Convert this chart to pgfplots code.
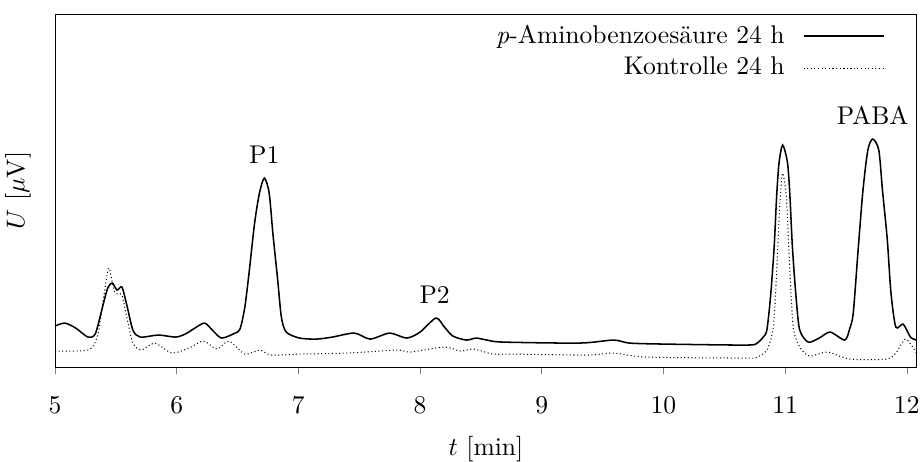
\documentclass[border=0pt]{standalone}
\usepackage{fontspec}
\usepackage{pgfplots}
\pgfplotsset{compat=1.18}
\begin{document}
\begin{tikzpicture}
\begin{axis}[
  scale only axis, width=336.7pt, height=137.9pt,
  xmin=5, xmax=12.083, ymin=0, ymax=353,
  xtick={5,6,7,8,9,10,11,12}, ytick=\empty,
  xtick pos=bottom, tick align=outside, major tick length=2.8pt,
  xticklabel style={yshift=-5.5pt, inner xsep=0pt},
  xlabel={$t$ [min]}, ylabel={$U$ [$\mu$V]},
  xlabel style={at={(axis description cs:0.5,-0.232)}, anchor=center, inner sep=0pt},
  ylabel style={at={(axis description cs:-0.043,0.5)}, anchor=center, inner sep=0pt},
  legend style={draw=none, fill=none, at={(axis description cs:0.972,1.0)}, anchor=north east},
  legend cell align=right, legend plot pos=right,
  legend image code/.code={\path (0cm,0cm); \draw[#1] plot coordinates {(0.18cm,0cm) (0.73cm,0cm) (1.28cm,0cm)};},
  clip=false,
]
\addplot[black, line width=0.6pt, smooth, tension=0.45] coordinates {
(5.00,41) (5.08,44) (5.17,39) (5.27,30) (5.33,33) (5.38,55) (5.43,78) (5.47,84) (5.51,77) (5.55,80) (5.59,62) (5.64,37) (5.70,30)
(5.85,32) (5.99,30) (6.07,33) (6.15,39) (6.23,44) (6.30,36) (6.37,29) (6.48,34) (6.52,38) (6.56,60) (6.60,100) (6.64,144) (6.68,174)
(6.72,189) (6.76,174) (6.79,134) (6.83,87) (6.86,50) (6.90,35) (7.01,29) (7.15,28) (7.28,30) (7.46,34) (7.59,28) (7.75,34) (7.89,29)
(8.00,35) (8.13,49) (8.20,40) (8.27,31) (8.38,27) (8.46,29) (8.55,27) (8.68,25) (9.31,24) (9.59,27) (9.72,24) (10.00,23) (10.68,22)
(10.77,24) (10.82,30) (10.85,37) (10.88,70) (10.91,120) (10.93,170) (10.95,204) (10.98,222) (11.02,204) (11.04,170) (11.06,120)
(11.09,70) (11.12,37) (11.19,25) (11.28,29) (11.37,35) (11.49,27) (11.53,38) (11.56,54) (11.60,117) (11.64,177) (11.68,217) (11.72,228)
(11.77,217) (11.80,177) (11.84,127) (11.87,74) (11.91,40) (11.97,43) (12.03,30) (12.08,27)
};
\addlegendentry{\textit{p}-Aminobenzoesäure 24 h}
\addplot[black, line width=0.4pt, densely dotted, smooth, tension=0.45] coordinates {
(5.00,16) (5.15,16) (5.27,17) (5.32,22) (5.36,37) (5.40,70) (5.44,99) (5.47,85) (5.49,75) (5.52,73) (5.55,72) (5.59,50) (5.64,24)
(5.71,17) (5.82,24) (5.96,14) (6.10,19) (6.22,26) (6.33,18) (6.43,26) (6.56,13) (6.68,17) (6.78,12) (7.01,13) (7.40,14) (7.81,17)
(7.92,15) (8.20,20) (8.33,16) (8.44,18) (8.60,13) (8.76,13) (9.37,12) (9.59,14) (9.86,10) (10.68,9) (10.77,10) (10.85,17) (10.90,37)
(10.92,70) (10.94,120) (10.96,170) (10.98,194) (11.01,170) (11.03,120) (11.05,70) (11.07,37) (11.12,20) (11.20,11) (11.35,15)
(11.53,8) (11.83,8) (11.91,14) (11.99,28) (12.08,14)
};
\addlegendentry{Kontrolle 24 h}
\node at (axis cs:6.72,212) {P1};
\node at (axis cs:8.12,72) {P2};
\node at (axis cs:11.72,252) {PABA};
\end{axis}
\path ([shift={(-21.5pt,-36pt)}]current axis.south west) rectangle ([shift={(2pt,5.5pt)}]current axis.north east);
\end{tikzpicture}
\end{document}
